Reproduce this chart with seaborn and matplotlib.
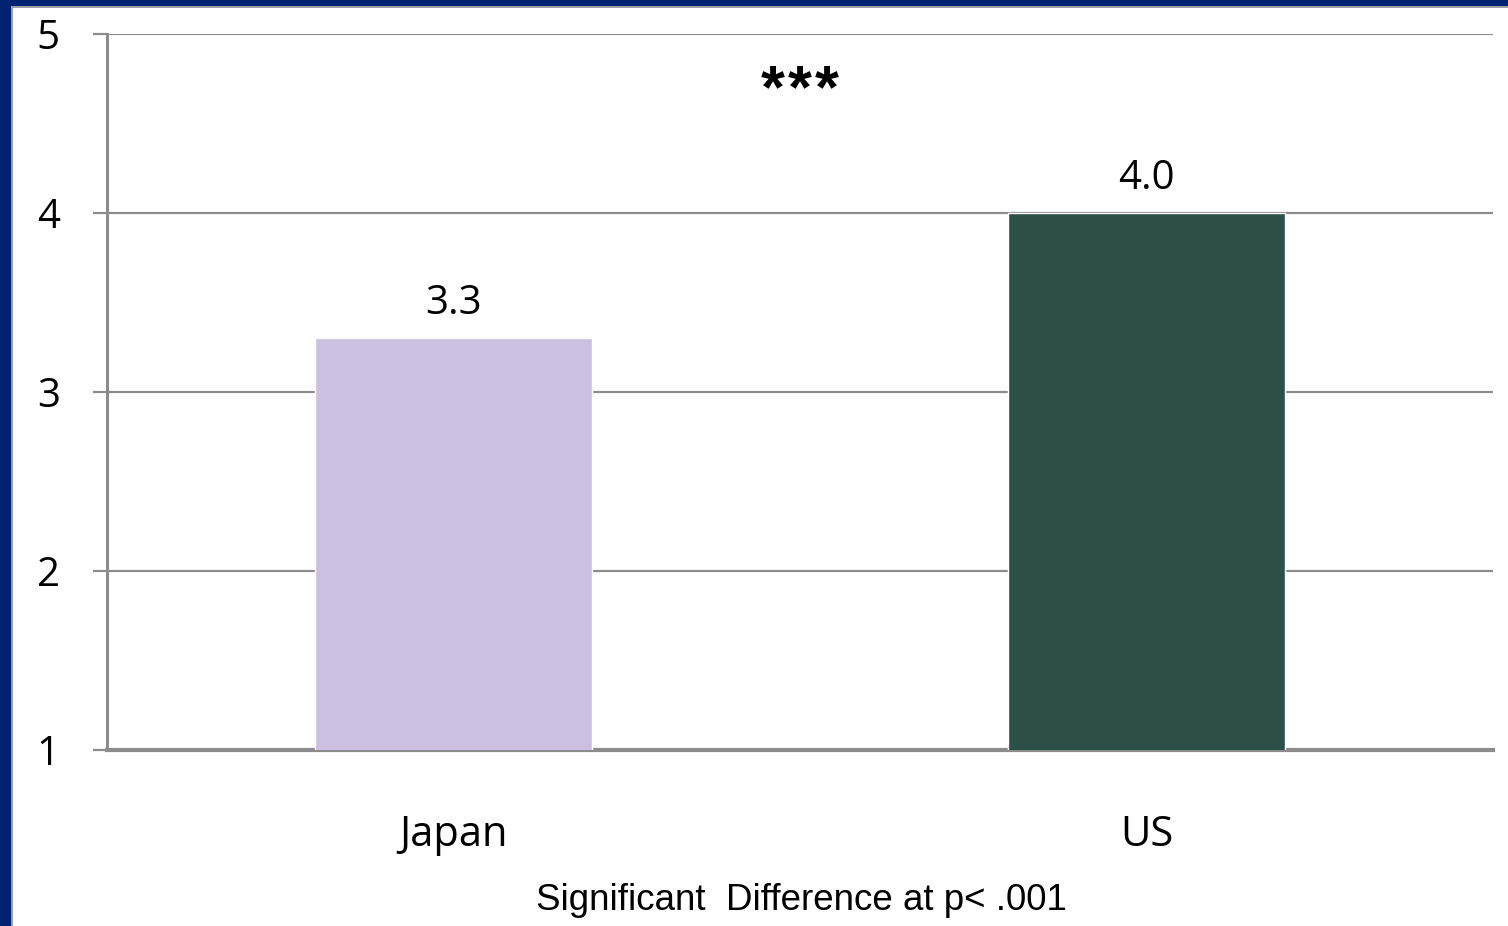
import matplotlib
matplotlib.use("Agg")
import matplotlib.pyplot as plt
import seaborn as sns
import pandas as pd
from matplotlib.patches import Rectangle

sns.set_theme(style="white")
plt.rcParams['font.family'] = ['Open Sans', 'DejaVu Sans']

# Data
countries = ["Japan", "US"]
scores = [3.3, 4.0]
value_labels = ["3.3", "4.0"]
bar_colors = ["#CBC0E2", "#2C4F48"]
y_ticks = [1, 2, 3, 4, 5]
note = "Significant  Difference at p< .001"
sig_mark = "***"

df = pd.DataFrame({"country": countries, "score": scores})

fig = plt.figure(figsize=(15.08, 9.26), dpi=100)
ax = fig.add_axes([107 / 1508, 1 - 750 / 926, (1493 - 107) / 1508, (750 - 34) / 926])

sns.barplot(data=df, x="country", y="score", hue="country", palette=bar_colors,
            width=0.4, legend=False, ax=ax, zorder=3, saturation=1)

ax.set_ylim(1, 5)
ax.set_yticks(y_ticks)
ax.set_xlim(-0.5, 1.5)
ax.set_xlabel("")
ax.set_ylabel("")

grid_c = "#8C8C8C"
ax.yaxis.grid(True, color=grid_c, linewidth=1.6, zorder=0)
ax.set_axisbelow(True)
for s in ["top", "right"]:
    ax.spines[s].set_visible(False)
ax.spines["left"].set_color(grid_c)
ax.spines["left"].set_linewidth(2.2)
ax.spines["bottom"].set_color(grid_c)
ax.spines["bottom"].set_linewidth(3)

ax.tick_params(axis="y", which="major", direction="out", length=10, width=1.6,
               color=grid_c, left=True, labelsize=29, pad=24, labelcolor="black")
ax.tick_params(axis="x", bottom=False, labelsize=30, pad=40, labelcolor="black")

# value labels above bars
for i, (v, lab) in enumerate(zip(scores, value_labels)):
    ax.text(i, v + 0.08, lab, ha="center", va="bottom", fontsize=29, color="black")

# significance mark, stars spread out a little like the slide
for k, ch in enumerate(sig_mark):
    ax.text(0.5 + (k - 1) * 0.039, 4.59, ch, ha="center", va="baseline", fontsize=44,
            fontweight="bold", family="Liberation Sans", color="black")

# footnote
fig.text(801 / 1508, 1 - 900 / 926, note, ha="center", va="center",
         fontsize=26.5, family="Liberation Sans", color="black")

# slide frame
fig.patches.append(Rectangle((0, 0), 11 / 1508, 1, transform=fig.transFigure,
                             facecolor="#002270", edgecolor="none", zorder=10))
fig.patches.append(Rectangle((11 / 1508, 0), 2 / 1508, 1 - 6 / 926, transform=fig.transFigure,
                             facecolor="#A0A0A0", edgecolor="none", zorder=10))
fig.patches.append(Rectangle((0, 1 - 6 / 926), 1, 6 / 926, transform=fig.transFigure,
                             facecolor="#002270", edgecolor="none", zorder=10))
fig.patches.append(Rectangle((11 / 1508, 1 - 8 / 926), 1, 2 / 926, transform=fig.transFigure,
                             facecolor="#A0A0A0", edgecolor="none", zorder=10))

fig.savefig("out.png", dpi=100)
